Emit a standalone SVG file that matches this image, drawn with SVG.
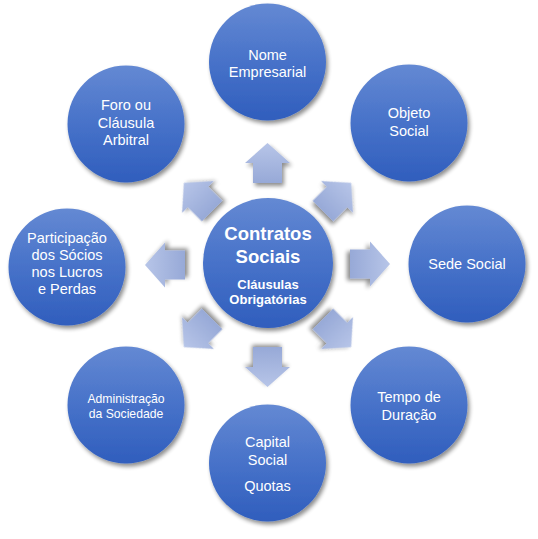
<svg xmlns="http://www.w3.org/2000/svg" width="538" height="539" viewBox="0 0 538 539">
<defs>
<linearGradient id="gc" x1="0" y1="0" x2="0" y2="1">
<stop offset="0" stop-color="#6489d3"/>
<stop offset="0.5" stop-color="#4772c9"/>
<stop offset="1" stop-color="#305ebd"/>
</linearGradient>
<linearGradient id="ga" x1="0" y1="0" x2="0" y2="1">
<stop offset="0" stop-color="#b7c5e8"/>
<stop offset="1" stop-color="#97a9d7"/>
</linearGradient>
<filter id="sh" x="-20%" y="-20%" width="150%" height="150%">
<feGaussianBlur in="SourceAlpha" stdDeviation="2.2"/>
<feOffset dx="1.5" dy="2.5" result="b"/>
<feComponentTransfer><feFuncA type="linear" slope="0.45"/></feComponentTransfer>
<feMerge><feMergeNode/><feMergeNode in="SourceGraphic"/></feMerge>
</filter>
<polygon id="arr" points="0,-20 22.5,0 14.5,0 14.5,20 -14.5,20 -14.5,0 -22.5,0"/>
</defs>
<style>
.c{fill:url(#gc);filter:url(#sh)}
.a{fill:url(#ga);filter:url(#sh)}
text{font-family:"Liberation Sans",Arial,sans-serif;fill:#ffffff;text-anchor:middle;font-size:14.5px}
text.t{font-weight:bold;font-size:18.5px}
text.s{font-weight:bold;font-size:13px}
text.m{font-size:12.2px}
</style>
<g id="connectors">
<use href="#arr" class="a" transform="translate(267.5,163)"/>
<use href="#arr" class="a" transform="translate(337,197) rotate(45)"/>
<use href="#arr" class="a" transform="translate(370,264) rotate(90)"/>
<use href="#arr" class="a" transform="translate(337,333) rotate(135)"/>
<use href="#arr" class="a" transform="translate(267.5,367) rotate(180)"/>
<use href="#arr" class="a" transform="translate(198,333) rotate(225)"/>
<use href="#arr" class="a" transform="translate(165,265) rotate(270)"/>
<use href="#arr" class="a" transform="translate(198,197) rotate(315)"/>
</g>
<g id="center">
<circle class="c" cx="268" cy="263" r="65"/>
<text class="t" x="268" y="240">Contratos</text>
<text class="t" x="268" y="263">Sociais</text>
<text class="s" x="268" y="289">Cláusulas</text>
<text class="s" x="268" y="304">Obrigatórias</text>
</g>
<g id="nome">
<circle class="c" cx="267.5" cy="62" r="58.5"/>
<text x="267.5" y="60">Nome</text>
<text x="267.5" y="77">Empresarial</text>
</g>
<g id="objeto">
<circle class="c" cx="409" cy="123" r="58.5"/>
<text x="409" y="118">Objeto</text>
<text x="409" y="136">Social</text>
</g>
<g id="sede">
<circle class="c" cx="467" cy="264" r="58.5"/>
<text x="467" y="269">Sede Social</text>
</g>
<g id="tempo">
<circle class="c" cx="409" cy="405" r="58.5"/>
<text x="409" y="402">Tempo de</text>
<text x="409" y="420">Duração</text>
</g>
<g id="capital">
<circle class="c" cx="267.5" cy="463" r="58.5"/>
<text x="267.5" y="447">Capital</text>
<text x="267.5" y="465">Social</text>
<text x="267.5" y="491">Quotas</text>
</g>
<g id="administracao">
<circle class="c" cx="126" cy="405" r="58.5"/>
<text class="m" x="126" y="403">Administração</text>
<text class="m" x="126" y="418">da Sociedade</text>
</g>
<g id="participacao">
<circle class="c" cx="67" cy="267" r="58.5"/>
<text x="67" y="243">Participação</text>
<text x="67" y="260">dos Sócios</text>
<text x="67" y="277">nos Lucros</text>
<text x="67" y="294">e Perdas</text>
</g>
<g id="foro">
<circle class="c" cx="126" cy="124" r="58.5"/>
<text x="126" y="110">Foro ou</text>
<text x="126" y="128">Cláusula</text>
<text x="126" y="145">Arbitral</text>
</g>
</svg>
